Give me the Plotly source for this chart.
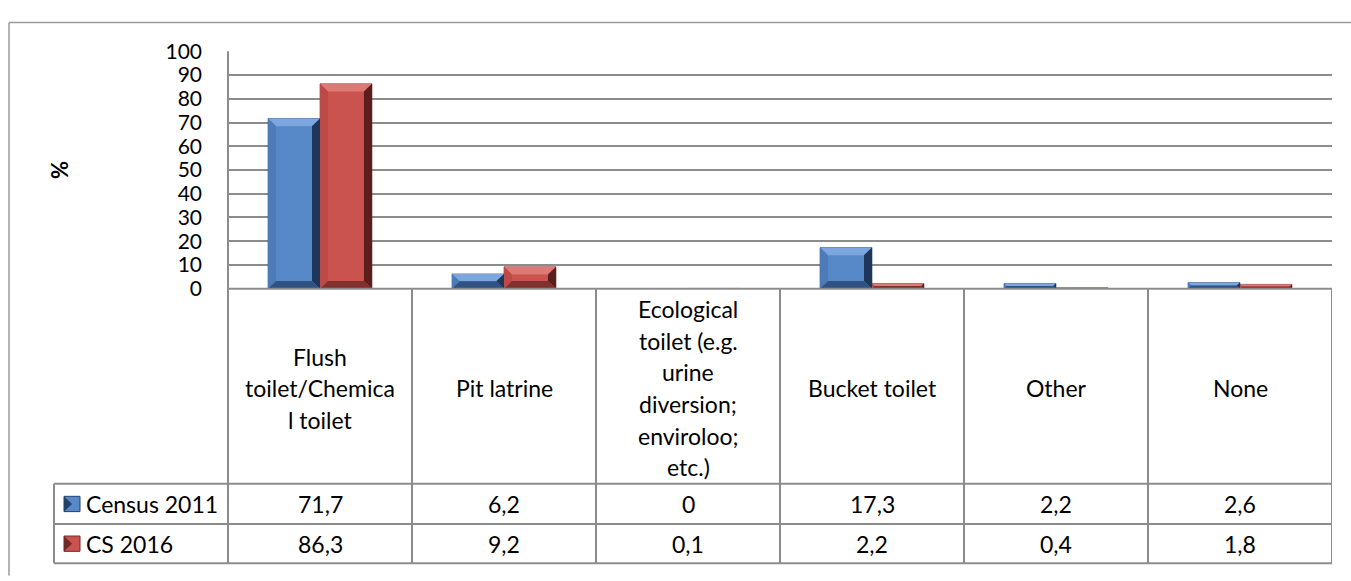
import plotly.graph_objects as go

categories = ["Flush toilet/Chemical toilet", "Pit latrine",
              "Ecological toilet (e.g. urine diversion; enviroloo; etc.)",
              "Bucket toilet", "Other", "None"]
category_lines = [["Flush", "toilet/Chemica", "l toilet"],
                  ["Pit latrine"],
                  ["Ecological", "toilet (e.g.", "urine", "diversion;", "enviroloo;", "etc.)"],
                  ["Bucket toilet"], ["Other"], ["None"]]
series_names = ["Census 2011", "CS 2016"]
census_2011 = [71.7, 6.2, 0, 17.3, 2.2, 2.6]
cs_2016 = [86.3, 9.2, 0.1, 2.2, 0.4, 1.8]
y_ticks = [0, 10, 20, 30, 40, 50, 60, 70, 80, 90, 100]

W, H = 1351, 581
FONT = "Lato"
FS = 23
TICK_FS = 21
GRID = "#8c8c8c"


def px(x):
    return x / W


def py(y):
    return 1 - y / H


PL, PR, PT, PB = 228, 1332, 39, 287  # plot area in pixels
ROW1, ROW2, ROW3 = 491, 533, 574
LEG_L = 54
BARGAP = 0.435

fills = ["#5789C8", "#CB534F"]
edges = ["#22406A", "#6E2A28"]
bevel_top = ["#7CA6DE", "#DE7A76"]
bevel_left = ["#4C7BB8", "#BC4A47"]
bevel_right = ["#1E365A", "#5A1F1D"]
bevel_bottom = ["#2F5283", "#80302D"]
values = [census_2011, cs_2016]
xpos = list(range(len(categories)))

fig = go.Figure()
for name, vals, fc, ec in zip(series_names, values, fills, edges):
    fig.add_trace(go.Bar(x=xpos, y=vals, name=name, hovertext=categories,
                         marker=dict(color=fc, line=dict(color=ec, width=0.6)),
                         showlegend=False, hoverinfo="text+y+name"))

shapes = []
# bevel decoration on bars (derived from data through axis units)
unit_px_x = (PR - PL) / len(categories)
unit_px_y = (PB - PT) / 100.0
bw = (1 - BARGAP) / 2
for s, vals in enumerate(values):
    for i, v in enumerate(vals):
        h = v * unit_px_y
        if h < 1.5:
            continue
        b = min(8.0, h / 2.0)
        bx, by = b / unit_px_x, b / unit_px_y
        x0 = i - (1 - BARGAP) / 2 + s * bw
        x1 = x0 + bw
        polys = [
            ([(x0, v), (x1, v), (x1 - bx, v - by), (x0 + bx, v - by)], bevel_top[s]),
            ([(x0, v), (x0 + bx, v - by), (x0 + bx, by), (x0, 0)], bevel_left[s]),
            ([(x1, v), (x1, 0), (x1 - bx, by), (x1 - bx, v - by)], bevel_right[s]),
            ([(x0, 0), (x1, 0), (x1 - bx, by), (x0 + bx, by)], bevel_bottom[s]),
        ]
        for pts, col in polys:
            path = "M " + " L ".join("%f,%f" % p for p in pts) + " Z"
            shapes.append(dict(type="path", xref="x", yref="y", path=path, fillcolor=col,
                               line=dict(width=0), layer="above"))

line = dict(color=GRID, width=2)
# outer chart border
shapes.append(dict(type="line", xref="paper", yref="paper", x0=px(9), x1=1.01, y0=py(9), y1=py(9),
                   line=dict(color="#9a9a9a", width=1.5)))
shapes.append(dict(type="line", xref="paper", yref="paper", x0=px(9), x1=px(9), y0=py(9), y1=-0.01,
                   line=dict(color="#9a9a9a", width=1.5)))
# plot left axis + table left of category area
shapes.append(dict(type="line", xref="paper", yref="paper", x0=px(PL), x1=px(PL), y0=py(PT), y1=py(ROW3), line=line))
# horizontal table lines
shapes.append(dict(type="line", xref="paper", yref="paper", x0=px(PL), x1=px(PR), y0=py(PB), y1=py(PB), line=line))
for yy in (ROW1, ROW2, ROW3):
    shapes.append(dict(type="line", xref="paper", yref="paper", x0=px(LEG_L), x1=px(PR), y0=py(yy), y1=py(yy), line=line))
shapes.append(dict(type="line", xref="paper", yref="paper", x0=px(LEG_L), x1=px(LEG_L), y0=py(ROW1), y1=py(ROW3), line=line))
# vertical category dividers (in axis units)
for i in range(len(categories)):
    shapes.append(dict(type="line", xref="x", yref="paper", x0=i + 0.5, x1=i + 0.5, y0=py(PB), y1=py(ROW3), line=line))

annotations = []
# category labels
for i, lines in enumerate(category_lines):
    n = len(lines)
    center = 391
    for j, t in enumerate(lines):
        yy = center + (j - (n - 1) / 2) * 33
        annotations.append(dict(x=i, xref="x", y=py(yy), yref="paper", text=t, showarrow=False,
                                font=dict(family=FONT, size=FS, color="#000"), xanchor="center", yanchor="middle"))
# value rows
row_centers = [(ROW1 + ROW2) / 2, (ROW2 + ROW3) / 2]
for r, vals in enumerate(values):
    for i, v in enumerate(vals):
        annotations.append(dict(x=i, xref="x", y=py(row_centers[r]), yref="paper",
                                text=("%g" % v).replace(".", ","), showarrow=False,
                                font=dict(family=FONT, size=FS, color="#000"), xanchor="center", yanchor="middle"))
    # legend key
    yc = row_centers[r]
    shapes.append(dict(type="rect", xref="paper", yref="paper", x0=px(64), x1=px(80), y0=py(yc + 8), y1=py(yc - 8),
                       fillcolor=fills[r], line=dict(color=edges[r], width=1)))
    shapes.append(dict(type="path", xref="paper", yref="paper",
                       path="M %f %f L %f %f L %f %f Z" % (px(64), py(yc - 8), px(72), py(yc), px(64), py(yc + 8)),
                       fillcolor=edges[r], line=dict(width=0)))
    annotations.append(dict(x=px(84), xref="paper", y=py(yc), yref="paper", text=series_names[r], showarrow=False,
                            font=dict(family=FONT, size=FS, color="#000"), xanchor="left", yanchor="middle"))
# y title
annotations.append(dict(x=px(60), xref="paper", y=py(163), yref="paper", text="<b>%</b>", textangle=-90,
                        showarrow=False, font=dict(family=FONT, size=22, color="#000"),
                        xanchor="center", yanchor="middle"))

fig.update_layout(
    width=W, height=H, margin=dict(l=0, r=0, t=0, b=0),
    paper_bgcolor="white", plot_bgcolor="white",
    barmode="group", bargap=BARGAP, bargroupgap=0,
    xaxis=dict(domain=[px(PL), px(PR)], range=[-0.5, len(categories) - 0.5], showticklabels=False,
               showgrid=False, zeroline=False, showline=False, fixedrange=True),
    yaxis=dict(domain=[py(PB), py(PT)], range=[0, 100], tickvals=y_ticks, showgrid=True,
               gridcolor=GRID, gridwidth=2, zeroline=False, showline=False,
               tickfont=dict(family=FONT, size=TICK_FS, color="#000"), ticklabelstandoff=25, fixedrange=True),
    shapes=shapes, annotations=annotations,
)

fig.write_html("out.html", config={"displayModeBar": False},
               post_script="document.body.style.margin='0';document.body.style.overflow='hidden';")
